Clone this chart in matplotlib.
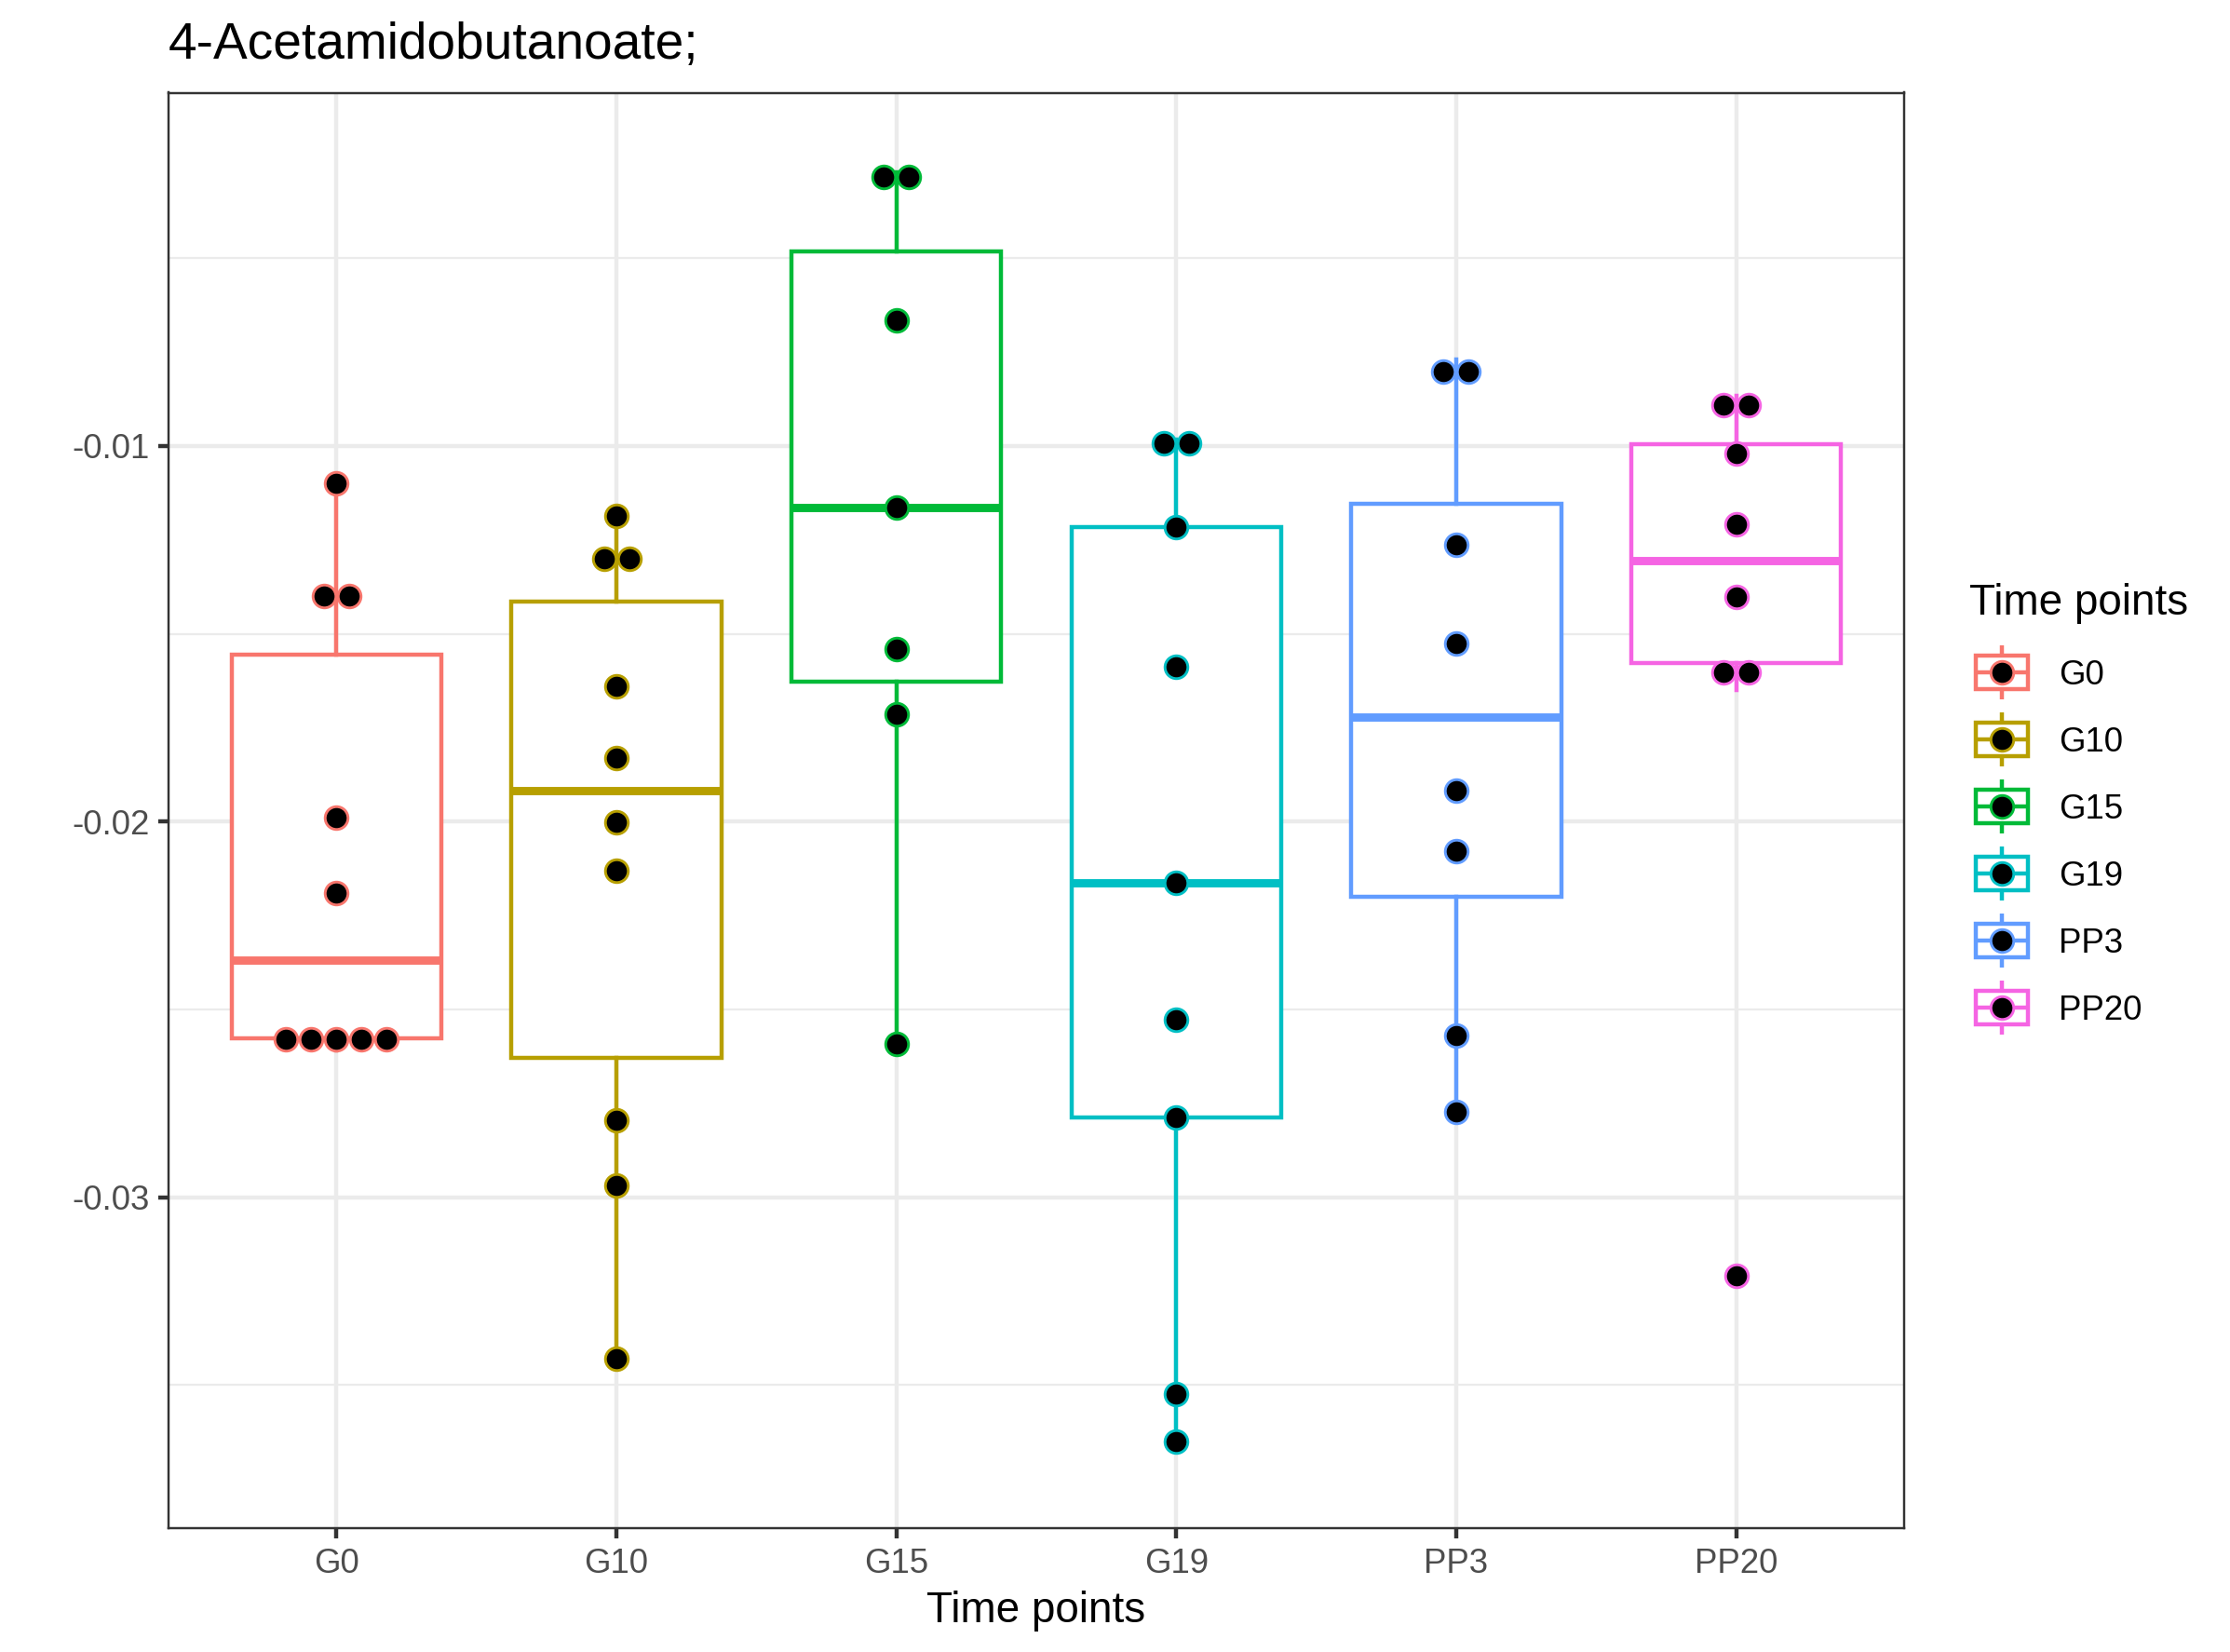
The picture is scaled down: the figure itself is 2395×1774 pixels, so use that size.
import matplotlib
matplotlib.use("Agg")
from matplotlib import pyplot as plt
import numpy as np

plt.rcParams['font.family'] = ['Liberation Sans', 'DejaVu Sans']

# Datos
categories = ["G0", "G10", "G15", "G19", "PP3", "PP20"]
colors = ["#F8766D", "#B79F00", "#00BA38", "#00BFC4", "#619CFF", "#F564E3"]

g0 = [-0.0110, -0.0139, -0.0141, -0.0199, -0.0219, -0.0255, -0.0257, -0.0258, -0.0260, -0.0261]
g10 = [-0.01187, -0.0126, -0.0134, -0.0164, -0.01832, -0.02002, -0.0213, -0.02794, -0.02968, -0.03431]
g15 = [-0.00272, -0.00298, -0.00666, -0.01165, -0.01541, -0.01715, -0.02592]
g19 = [-0.00983, -0.01005, -0.01217, -0.01588, -0.02164, -0.02527, -0.02787, -0.03523, -0.0365]
pp3 = [-0.00771, -0.00831, -0.01263, -0.01526, -0.01917, -0.02078, -0.02569, -0.02772]
pp20 = [-0.00866, -0.00918, -0.0102, -0.01209, -0.01402, -0.01555, -0.0165, -0.0321]
groups = [g0, g10, g15, g19, pp3, pp20]

y_ticks = [-0.03, -0.02, -0.01]
y_tick_labels = ["-0.03", "-0.02", "-0.01"]
y_minor = [-0.035, -0.025, -0.015, -0.005]

title = "4-Acetamidobutanoate;"
x_title = "Time points"
legend_title = "Time points"

W, H = 2395, 1774
DPI = 300
BINWIDTH = 0.001      # agrupado tipo dotdensity
DOT_PX = 27           # diametro de los puntos en pixeles
LW = 0.5 * 72.27 / 25.4 * 0.75   # linewidth 0.5 de ggplot en pt

# panel en pixeles
px_left, px_right, px_top, px_bottom = 181, 2045, 99.5, 1641


def dot_bins(vals, binwidth):
    """Agrupa los valores como geom_dotplot (method='dotdensity')."""
    vals = np.sort(np.asarray(vals))
    centers, counts = [], []
    group = []
    binend = -np.inf
    for v in vals:
        if v >= binend:
            if group:
                centers.append((group[0] + group[-1]) / 2)
                counts.append(len(group))
            group = [v]
            binend = v + binwidth
        else:
            group.append(v)
    if group:
        centers.append((group[0] + group[-1]) / 2)
        counts.append(len(group))
    return centers, counts


fig = plt.figure(figsize=(W / DPI, H / DPI), dpi=DPI)
ax = fig.add_axes([px_left / W, 1 - px_bottom / H,
                   (px_right - px_left) / W, (px_bottom - px_top) / H])

positions = np.arange(1, len(categories) + 1)
bp = ax.boxplot(groups, positions=positions, widths=0.75, whis=1.5,
                showfliers=False, showcaps=False, patch_artist=True,
                boxprops=dict(linewidth=LW), whiskerprops=dict(linewidth=LW),
                medianprops=dict(linewidth=LW * 2), zorder=3)
for i, col in enumerate(colors):
    bp['boxes'][i].set_facecolor("white")
    bp['boxes'][i].set_edgecolor(col)
    bp['medians'][i].set_color(col)
    bp['medians'][i].set_solid_capstyle("butt")
    for w in bp['whiskers'][2 * i:2 * i + 2]:
        w.set_color(col)

ax.set_xlim(0.4, len(categories) + 0.6)
ax.set_ylim(-0.03881, -0.000597)

# puntos apilados en el centro
x_per_px = (len(categories) + 0.2) / (px_right - px_left)
dx = DOT_PX * x_per_px
ms = DOT_PX * 72 / DPI - 0.6
for i, vals in enumerate(groups):
    centers, counts = dot_bins(vals, BINWIDTH)
    xs, ys = [], []
    for c, n in zip(centers, counts):
        for k in range(n):
            xs.append(positions[i] + (k - (n - 1) / 2) * dx)
            ys.append(c)
    ax.scatter(xs, ys, s=ms ** 2, facecolor="black", edgecolor=colors[i],
               linewidth=0.7, zorder=5)

# ejes y rejilla
ax.set_xticks(positions)
ax.set_xticklabels(categories)
ax.set_yticks(y_ticks)
ax.set_yticklabels(y_tick_labels)
ax.set_yticks(y_minor, minor=True)
ax.tick_params(axis="both", which="major", length=2.75, width=LW, color="#333333",
               pad=2.2, labelsize=8.8, labelcolor="#4D4D4D")
ax.tick_params(axis="y", which="minor", length=0)
ax.grid(True, which="major", color="#EBEBEB", linewidth=LW, zorder=0)
ax.grid(True, which="minor", axis="y", color="#EBEBEB", linewidth=LW / 2, zorder=0)
ax.set_axisbelow(True)
for sp in ax.spines.values():
    sp.set_color("#333333")
    sp.set_linewidth(LW * 0.55)
    sp.set_zorder(6)

ax.set_xlabel(x_title, fontsize=11, va="baseline")
ax.xaxis.set_label_coords(0.5, -(1742 - px_bottom) / (px_bottom - px_top))
ax.text(0.0, 1 + (px_top - 63) / (px_bottom - px_top), title, transform=ax.transAxes,
        fontsize=13.2, ha="left", va="baseline")

# leyenda dibujada a mano (coordenadas en pixeles)
lx0, lx1, ly0, ly1 = 2090, 2395, 590, 1130
lax = fig.add_axes([lx0 / W, 1 - ly1 / H, (lx1 - lx0) / W, (ly1 - ly0) / H])
lax.set_xlim(lx0, lx1)
lax.set_ylim(ly1, ly0)
lax.axis("off")
lax.text(2115, 660, legend_title, fontsize=11, ha="left", va="baseline")
key = 72
kx = 2150
for i, (cat, col) in enumerate(zip(categories, colors)):
    yc = 722 + key * i
    bw = 0.78 * key / 2
    lax.plot([kx, kx], [yc - 0.4 * key, yc - 0.25 * key], color=col, lw=LW,
             solid_capstyle="butt")
    lax.plot([kx, kx], [yc + 0.25 * key, yc + 0.4 * key], color=col, lw=LW,
             solid_capstyle="butt")
    lax.add_patch(plt.Rectangle((kx - bw, yc - 0.25 * key), 2 * bw, 0.5 * key,
                                facecolor="white", edgecolor=col, lw=LW))
    lax.plot([kx - bw, kx + bw], [yc, yc], color=col, lw=LW, solid_capstyle="butt")
    lax.scatter([kx], [yc], s=ms ** 2, facecolor="black", edgecolor=col,
                linewidth=0.7, zorder=5)
    lax.text(2211, yc + 13, cat, fontsize=8.8, ha="left", va="baseline")

fig.savefig("out.png", dpi=DPI, facecolor="white")
